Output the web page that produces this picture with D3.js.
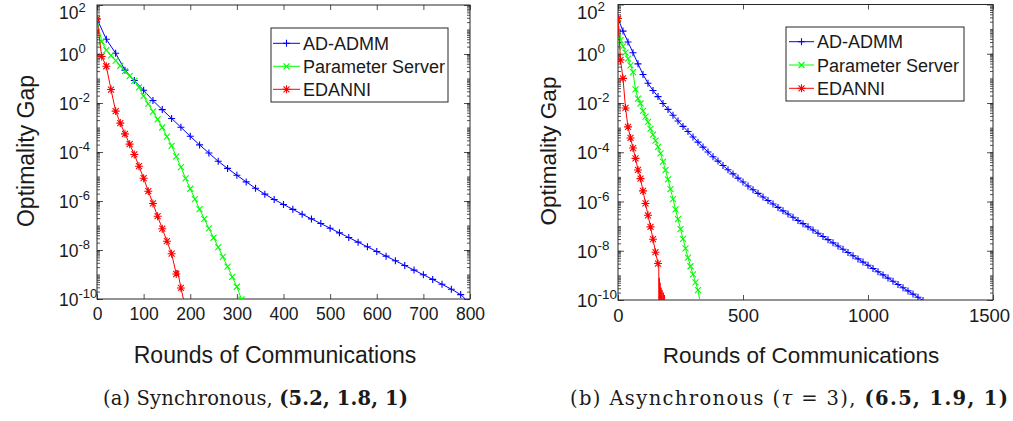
<!DOCTYPE html>
<html>
<head>
<meta charset="utf-8">
<script src="https://cdn.jsdelivr.net/npm/d3@7"></script>
<style>
  body { margin: 0; background: #fff; }
  svg { display: block; }
  text { font-family: "Liberation Sans", Arial, Helvetica, sans-serif; fill: #1a1a1a; }
  .caption { font-family: "DejaVu Serif", "Liberation Serif", serif; }
</style>
</head>
<body>
<svg id="chart" width="1013" height="421"></svg>
<script>
// Data: optimality gap as log10 exponent

const seriesNames = ['AD-ADMM', 'Parameter Server', 'EDANNI']

// (a) synchronous
const syncAdmmX = [0, 20, 40, 60, 80, 100, 120, 140, 160, 180, 200, 220, 240, 260, 280, 300, 320, 340, 360, 380,
  400, 420, 440, 460, 480, 500, 520, 540, 560, 580, 600, 620, 640, 660, 680, 700, 720, 740, 760, 780, 790]
const syncAdmmY = [1.43, 0.6, 0.03, -0.66, -1.08, -1.48, -1.9, -2.27, -2.63, -2.99, -3.36, -3.71, -4.04, -4.38, -4.67, -4.95, -5.22, -5.48, -5.72, -5.94,
  -6.14, -6.34, -6.54, -6.73, -6.92, -7.11, -7.3, -7.49, -7.68, -7.87, -8.06, -8.25, -8.44, -8.63, -8.82, -9.01, -9.2, -9.4, -9.6, -9.82, -10.0]

const syncPsX = [0, 10, 20, 30, 40, 50, 60, 70, 80, 90, 100, 110, 120, 130, 140, 150, 160, 170, 180, 190,
  200, 210, 220, 230, 240, 250, 260, 270, 280, 290, 300, 310]
const syncPsY = [1.43, 0.5, 0.16, -0.06, -0.27, -0.48, -0.7, -0.9, -1.1, -1.36, -1.72, -2.04, -2.35, -2.67, -3.0, -3.37, -3.75, -4.18, -4.62, -5.08,
  -5.5, -5.92, -6.33, -6.73, -7.12, -7.5, -7.88, -8.28, -8.68, -9.1, -9.5, -10.02]

const syncEdX = [0, 10, 20, 30, 40, 50, 60, 70, 80, 90, 100, 110, 120, 130, 140, 150, 160, 170, 173, 176, 180, 186]
const syncEdY = [1.43, -0.1, -0.5, -1.45, -2.33, -2.82, -3.26, -3.68, -4.1, -4.58, -5.07, -5.6, -6.1, -6.62, -7.13, -7.64, -8.15, -8.98, -8.82, -9.15, -9.55, -10.05]

// (b) asynchronous, tau = 3
const asyncAdmmX = [0, 20, 40, 60, 80, 100, 120, 140, 160, 180, 200, 220, 240, 260, 280, 300, 320, 340, 360, 380,
  400, 420, 440, 460, 480, 500, 520, 540, 560, 580, 600, 620, 640, 660, 680, 700, 720, 740, 760, 780,
  800, 820, 840, 860, 880, 900, 920, 940, 960, 980, 1000, 1020, 1040, 1060, 1080, 1100, 1120, 1140, 1160, 1180,
  1200, 1220]
const asyncAdmmY = [1.43, 0.92, 0.48, 0.04, -0.41, -0.84, -1.2, -1.49, -1.74, -2.02, -2.26, -2.5, -2.73, -2.95, -3.16, -3.38, -3.59, -3.79, -3.99, -4.18,
  -4.36, -4.54, -4.71, -4.88, -5.05, -5.21, -5.37, -5.52, -5.67, -5.82, -5.96, -6.1, -6.24, -6.38, -6.51, -6.64, -6.77, -6.9, -7.03, -7.16,
  -7.29, -7.42, -7.55, -7.68, -7.81, -7.94, -8.07, -8.2, -8.33, -8.46, -8.59, -8.72, -8.85, -8.98, -9.11, -9.24, -9.37, -9.5, -9.63, -9.76,
  -9.89, -10.02]

const asyncPsX = [0, 10, 20, 30, 40, 50, 60, 70, 80, 90, 100, 110, 120, 130, 140, 150, 160, 170, 180, 190,
  200, 210, 220, 230, 240, 250, 260, 270, 280, 290, 300, 310, 320, 327]
const asyncPsY = [1.43, 0.55, 0.3, 0.05, -0.2, -0.47, -0.75, -1.45, -1.82, -2.02, -2.32, -2.55, -2.77, -3.05, -3.28, -3.53, -3.78, -4.05, -4.38, -4.73,
  -5.1, -5.5, -5.9, -6.32, -6.72, -7.12, -7.52, -7.9, -8.28, -8.63, -8.96, -9.28, -9.6, -10.02]

const asyncEdX = [0, 10, 20, 30, 40, 50, 60, 70, 80, 90, 100, 110, 120, 130, 140, 150, 160, 163]
const asyncEdY = [1.43, -0.25, -1.0, -2.2, -2.97, -3.42, -3.83, -4.25, -4.72, -5.07, -5.57, -6.08, -6.56, -7.03, -7.53, -8.06, -8.52, -8.62]
// ragged tail of EDANNI near machine precision (line only)
const asyncEdTailX = [163, 164, 165, 167, 168, 170, 172, 174, 176, 178, 181, 183, 186, 188]
const asyncEdTailY = [-8.62, -10.4, -9.1, -10.4, -9.3, -10.4, -9.5, -10.4, -9.6, -10.4, -9.7, -10.4, -9.8, -10.4]

const syncXTicks = [0, 100, 200, 300, 400, 500, 600, 700, 800]
const asyncXTicks = [0, 500, 1000, 1500]
const yTickExps = [2, 0, -2, -4, -6, -8, -10]

// Drawing

const colors = ['#0000ff', '#00ff00', '#ff0000']
const markerPaths = [
  'M-3.5,0H3.5M0,-3.5V3.5',
  'M-3,-3L3,3M-3,3L3,-3',
  'M-4,0H4M0,-4V4M-3,-3L3,3M-3,3L3,-3'
]
const axisColor = '#262626'

const svg = d3.select('#chart')

const drawPanel = (p) => {
  const x = d3.scaleLinear().domain([0, p.xMax]).range([p.left, p.right])
  const y = d3.scaleLog().domain([1e-10, 1e2]).range([p.bottom, p.top])

  const g = svg.append('g')

  g.append('rect')
    .attr('x', p.left).attr('y', p.top)
    .attr('width', p.right - p.left).attr('height', p.bottom - p.top)
    .attr('fill', '#fff')

  g.append('clipPath').attr('id', `clip-${p.id}`)
    .append('rect')
      .attr('x', p.left).attr('y', p.top)
      .attr('width', p.right - p.left).attr('height', p.bottom - p.top)

  // ticks
  const minor = []
  for (let e = -10; e < 2; e++) {
    for (let k = 1; k < 10; k++) minor.push(k * Math.pow(10, e))
  }
  const major = yTickExps.map((e) => Math.pow(10, e))

  const styleAxis = (sel) => {
    sel.select('.domain').remove()
    sel.selectAll('line').attr('stroke', axisColor).attr('stroke-width', 0.8)
  }

  g.append('g')
      .attr('transform', `translate(0,${p.bottom})`)
      .call(d3.axisBottom(x).tickValues(p.xTicks).tickSize(-5).tickPadding(9).tickFormat(d3.format('d')))
      .call(styleAxis)
    .selectAll('text')
      .style('font-size', `${p.tickFont}px`)
      .attr('dx', (d) => (d === p.xMax ? p.lastTickShift : 0))

  g.append('g')
      .attr('transform', `translate(0,${p.top})`)
      .call(d3.axisTop(x).tickValues(p.xTicks).tickSize(-5).tickFormat(''))
      .call(styleAxis)

  ;[['L', p.left], ['R', p.right]].forEach(([side, pos]) => {
    const mk = side === 'L' ? d3.axisLeft : d3.axisRight
    g.append('g')
        .attr('transform', `translate(${pos},0)`)
        .call(mk(y).tickValues(minor).tickSize(-3).tickFormat(''))
        .call(styleAxis)
    g.append('g')
        .attr('transform', `translate(${pos},0)`)
        .call(mk(y).tickValues(major).tickSize(-6).tickFormat(''))
        .call(styleAxis)
  })

  // y tick labels as 10^e (top one kept inside the frame)
  g.selectAll('.ylab')
    .data(yTickExps)
    .join('text')
      .attr('class', 'ylab')
      .attr('x', p.left - p.yLabelOffset)
      .attr('y', (d) => Math.max(y(Math.pow(10, d)) + p.tickFont * 0.38, 19))
      .style('font-size', `${p.tickFont}px`)
      .each(function (d) {
        const t = d3.select(this)
        t.append('tspan').text('10')
        t.append('tspan')
          .attr('dy', -p.tickFont * 0.42)
          .style('font-size', `${p.supFont}px`)
          .text(d)
      })

  // box
  g.append('rect')
    .attr('x', p.left).attr('y', p.top)
    .attr('width', p.right - p.left).attr('height', p.bottom - p.top)
    .attr('fill', 'none')
    .attr('stroke', axisColor)
    .attr('stroke-width', 1)

  // series
  const line = d3.line()
    .x((d) => x(d[0]))
    .y((d) => y(Math.pow(10, d[1])))

  const plot = g.append('g').attr('clip-path', `url(#clip-${p.id})`)

  p.series.forEach((s, i) => {
    const pts = d3.zip(s.x, s.y)
    plot.append('path')
      .datum(pts)
      .attr('d', line)
      .attr('fill', 'none')
      .attr('stroke', colors[i])
      .attr('stroke-width', 1)
    if (s.tailX) {
      plot.append('path')
        .datum(d3.zip(s.tailX, s.tailY))
        .attr('d', line)
        .attr('fill', 'none')
        .attr('stroke', colors[i])
        .attr('stroke-width', 1)
    }
    plot.selectAll(null)
      .data(pts.filter((d) => d[0] % s.step === 0))
      .join('path')
        .attr('transform', (d) => `translate(${x(d[0])},${y(Math.pow(10, d[1]))})`)
        .attr('d', markerPaths[i])
        .attr('fill', 'none')
        .attr('stroke', colors[i])
        .attr('stroke-width', 1.1)
  })

  // legend
  const lg = p.legend
  g.append('rect')
    .attr('x', lg.x).attr('y', lg.y)
    .attr('width', lg.w).attr('height', lg.h)
    .attr('fill', '#fff')
    .attr('stroke', axisColor)
    .attr('stroke-width', 1)
  seriesNames.forEach((name, i) => {
    const ry = lg.rows[i]
    g.append('line')
      .attr('x1', lg.x1).attr('x2', lg.x2)
      .attr('y1', ry).attr('y2', ry)
      .attr('stroke', colors[i])
      .attr('stroke-width', 1)
    g.append('path')
      .attr('transform', `translate(${(lg.x1 + lg.x2) / 2},${ry})`)
      .attr('d', markerPaths[i])
      .attr('fill', 'none')
      .attr('stroke', colors[i])
      .attr('stroke-width', 1.1)
    g.append('text')
      .attr('x', lg.tx)
      .attr('y', ry + 6.5)
      .style('font-size', '18px')
      .text(name)
  })

  // axis titles
  g.append('text')
    .attr('x', p.xLabel[0]).attr('y', p.xLabel[1])
    .attr('text-anchor', 'middle')
    .style('font-size', `${p.labelFont}px`)
    .text('Rounds of Communications')

  g.append('text')
    .attr('transform', `translate(${p.yLabel[0]},${p.yLabel[1]}) rotate(-90)`)
    .attr('text-anchor', 'middle')
    .style('font-size', `${p.labelFont}px`)
    .text('Optimality Gap')
}

drawPanel({
  id: 'sync', left: 97, right: 470, top: 5, bottom: 299, xMax: 800,
  xTicks: syncXTicks, tickFont: 17.5, supFont: 13, yLabelOffset: 38, labelFont: 23, lastTickShift: 0,
  xLabel: [275, 363], yLabel: [34, 151],
  legend: {x: 271, y: 28, w: 177, h: 74, rows: [43.3, 66.3, 89.3], x1: 273, x2: 300, tx: 303},
  series: [
    {x: syncAdmmX, y: syncAdmmY, step: 20},
    {x: syncPsX, y: syncPsY, step: 10},
    {x: syncEdX, y: syncEdY, step: 10}
  ]
})

drawPanel({
  id: 'async', left: 618, right: 993, top: 4.5, bottom: 300, xMax: 1500,
  xTicks: asyncXTicks, tickFont: 18.5, supFont: 13.5, yLabelOffset: 41, labelFont: 22.5, lastTickShift: -4,
  xLabel: [801, 363], yLabel: [556, 151],
  legend: {x: 786, y: 27, w: 178, h: 74, rows: [41.7, 65, 88.3], x1: 789, x2: 814, tx: 817},
  series: [
    {x: asyncAdmmX, y: asyncAdmmY, step: 20},
    {x: asyncPsX, y: asyncPsY, step: 10},
    {x: asyncEdX, y: asyncEdY, step: 10, tailX: asyncEdTailX, tailY: asyncEdTailY}
  ]
})

// sub-captions
const capA = svg.append('text').attr('class', 'caption')
  .attr('x', 103).attr('y', 405).style('font-size', '19.5px')
  .attr('textLength', 305).attr('lengthAdjust', 'spacing')
capA.append('tspan').text('(a) Synchronous, ')
capA.append('tspan').style('font-weight', 'bold').text('(5.2, 1.8, 1)')

const capB = svg.append('text').attr('class', 'caption')
  .attr('x', 570).attr('y', 405).style('font-size', '19.5px')
  .attr('textLength', 438).attr('lengthAdjust', 'spacing')
capB.append('tspan').text('(b) Asynchronous (')
capB.append('tspan').style('font-style', 'italic').text('τ')
capB.append('tspan').text(' = 3), ')
capB.append('tspan').style('font-weight', 'bold').text('(6.5, 1.9, 1)')
</script>
</body>
</html>
